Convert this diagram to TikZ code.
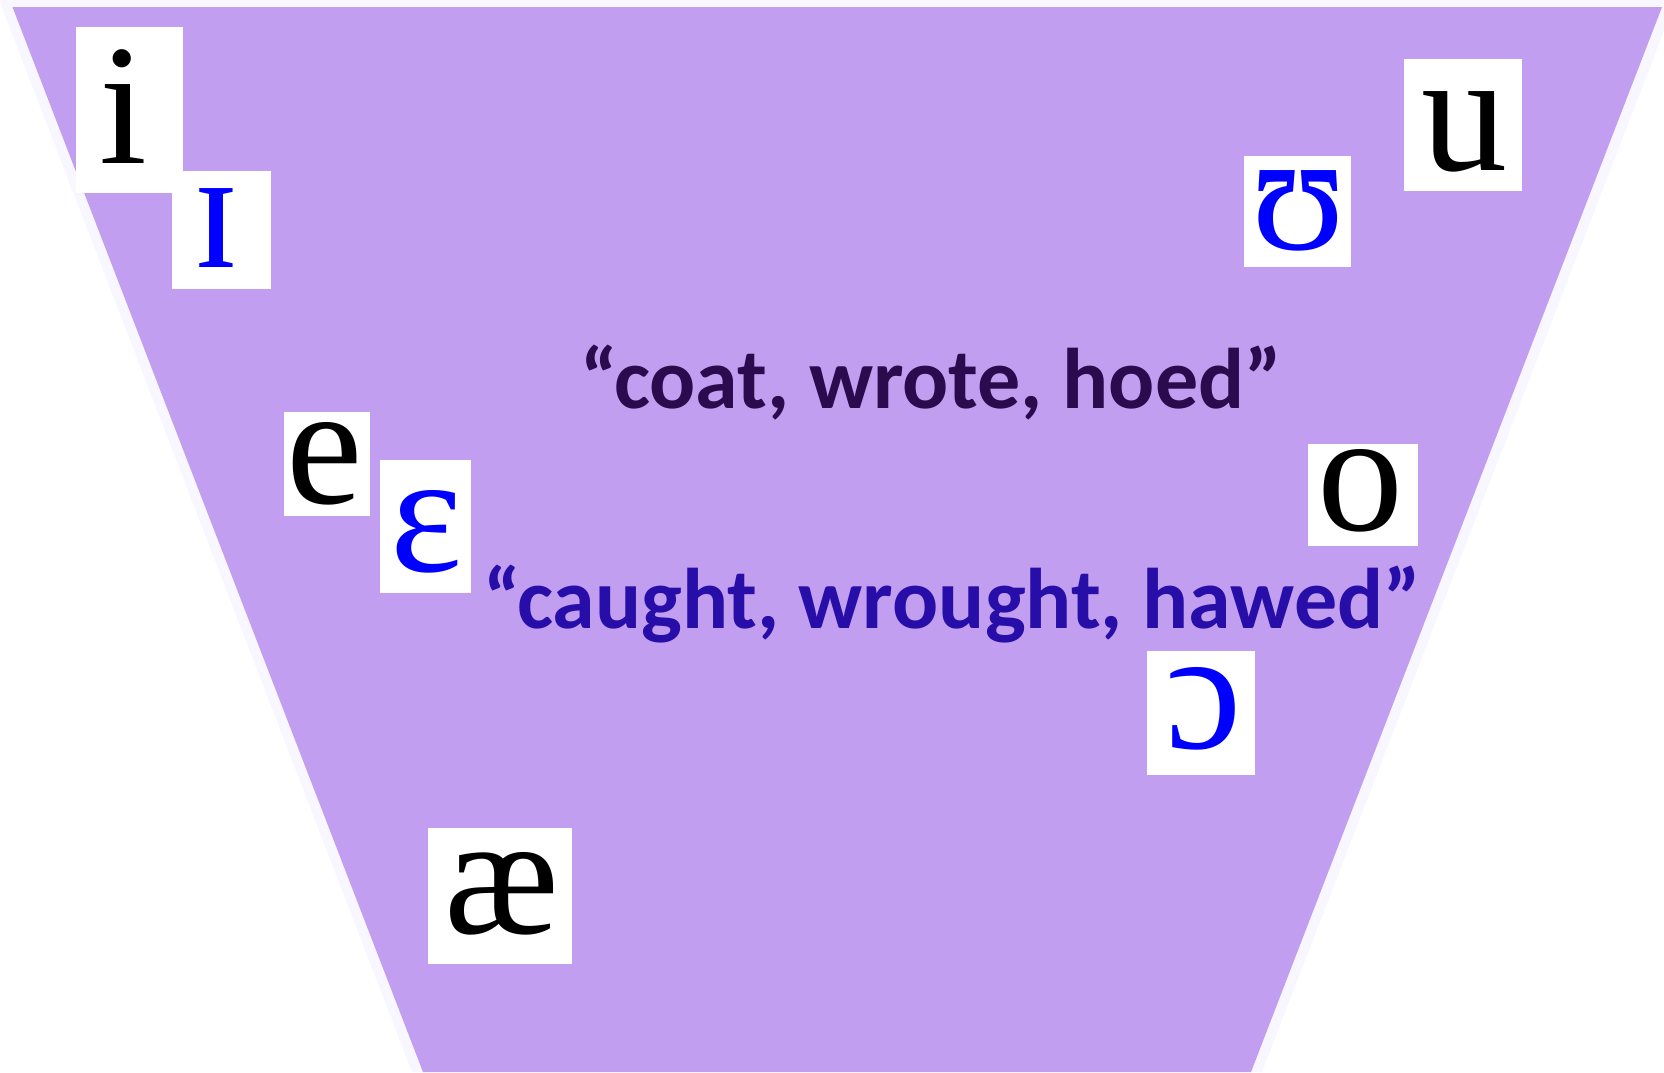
\documentclass[tikz,border=0pt]{standalone}
\usepackage{fontspec}
\setmainfont{Liberation Serif}
\newfontfamily\lbl{Carlito}
\definecolor{trap}{RGB}{193,158,239}
\definecolor{trapedge}{RGB}{248,246,255}
\definecolor{darkpurp}{RGB}{43,10,77}
\definecolor{bluepurp}{RGB}{40,14,168}
\begin{document}
\begin{tikzpicture}[x=1pt,y=-1pt,
  box/.style={fill=white, draw=none, inner sep=0pt, outer sep=0pt},
  ipa/.style={font=\fontsize{172}{172}\selectfont, inner sep=0pt, anchor=base},
  blk/.style={ipa, text=black},
  blu/.style={ipa, text=blue},
  word/.style={font=\lbl\bfseries\fontsize{86}{86}\selectfont, inner sep=0pt, anchor=base}]
\useasboundingbox (0,0) rectangle (1664,1072);
\fill[trapedge] (-1,0) -- (1676,0) -- (1262,1072) -- (412,1072) -- cycle;
\fill[trap] (12.5,7) -- (1662,7) -- (1251,1072) -- (423,1072) -- cycle;
% white boxes
\node[box, minimum width=107pt, minimum height=166pt] (ibox) at (129.5,110) {};
\node[box, minimum width=99pt, minimum height=118pt] (Ibox) at (221.5,230) {};
\node[box, minimum width=118pt, minimum height=132pt] (ubox) at (1463,125) {};
\node[box, minimum width=107pt, minimum height=111pt] (Ubox) at (1297.5,211.5) {};
\node[box, minimum width=86pt, minimum height=104pt] (ebox) at (327,464) {};
\node[box, minimum width=91pt, minimum height=133pt] (Ebox) at (425.5,526.5) {};
\node[box, minimum width=110pt, minimum height=102pt] (obox) at (1363,495) {};
\node[box, minimum width=108pt, minimum height=124pt] (Obox) at (1201,713) {};
\node[box, minimum width=144pt, minimum height=136pt] (aebox) at (500,896) {};
% letters
\node[blk] (i) at (123,163) {i};
\node[blu] (I) at (216,267) {ɪ};
\node[blk] (u) at (1464,170) {u};
\node[blu] (U) at (1299,249) {ʊ};
\node[blk] (e) at (325,503) {e};
\node[blu] (E) at (427,571) {ɛ};
\node[blk] (o) at (1360,530) {o};
\node[blu] (O) at (1204,748) {ɔ};
\node[blk] (ae) at (502,933) {æ};
% words
\node[word, text=darkpurp] (coat) at (931,408) {“coat, wrote, hoed”};
\node[word, text=bluepurp] (caught) at (952,628) {“caught, wrought, hawed”};
\end{tikzpicture}
\end{document}
